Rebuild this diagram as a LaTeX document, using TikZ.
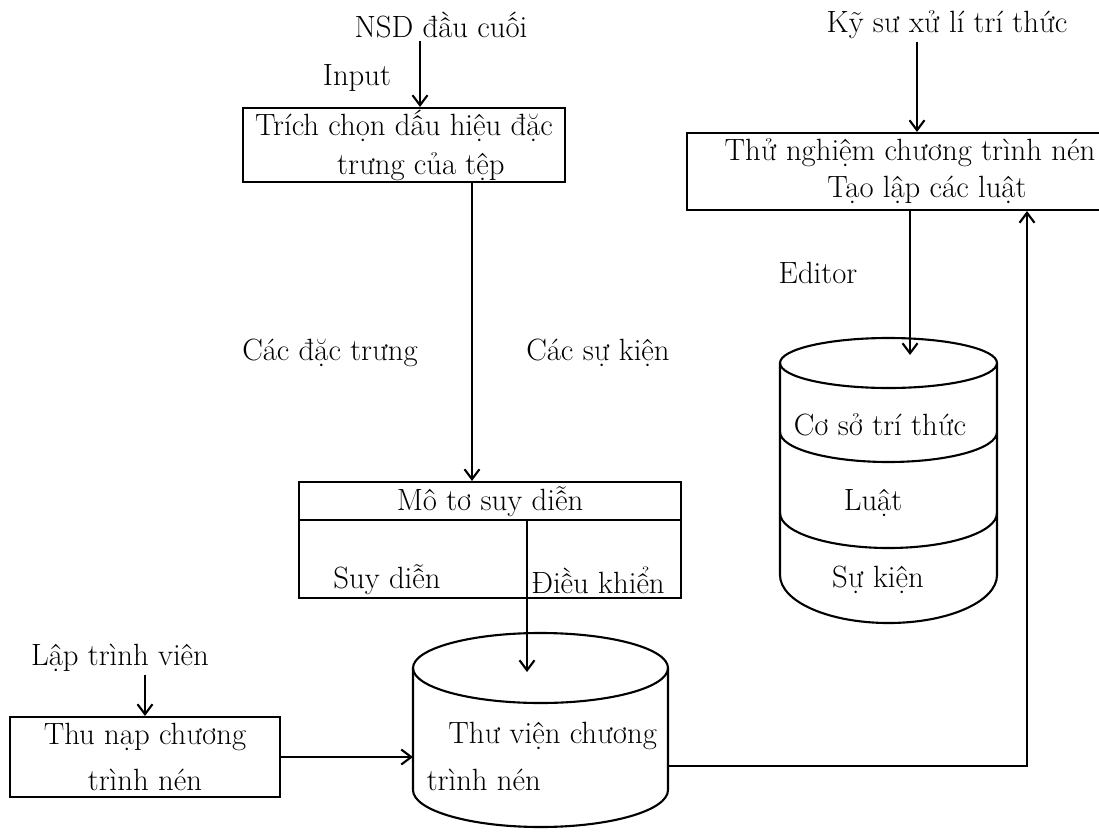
\documentclass[tikz,border=0pt]{standalone}
\usepackage{fontspec}
\usetikzlibrary{arrows.meta,positioning,calc}

\begin{document}
\begin{tikzpicture}[
      x=0.02cm,y=0.02cm,
      font=\fontsize{17.5}{21}\selectfont,
      line width=1.2pt,
      box/.style={draw,rectangle,inner sep=0pt,align=center},
      lbl/.style={inner sep=1pt},
      arr/.style={-{Straight Barb[length=2mm,width=3mm]},line width=1.2pt}
    ]
    \useasboundingbox (0,0) rectangle (1099,-832);
    % actors
    \node[lbl] (nsd) at (441,-25) {NSD đầu cuối};
    \node[lbl] (eng) at (947,-25) {Kỹ sư xử lí trí thức};
    \node[lbl] (dev) at (120,-658) {Lập trình viên};
    % boxes
    \node[box,minimum width=322*0.02cm,minimum height=74*0.02cm] (extract) at (404,-145)
      {Trích chọn dấu hiệu đặc\\[0.04cm]\hspace{1.1em}trưng của tệp};
    \node[box,minimum width=446*0.02cm,minimum height=77*0.02cm] (test) at (910,-171.5)
      {Thử nghiệm chương trình nén\\[0cm]\hspace{1.1em}Tạo lập các luật};
    \node[box,minimum width=270*0.02cm,minimum height=80*0.02cm] (prog) at (145,-757)
      {Thu nạp chương\\[0.18cm]trình nén};
    \node[box,minimum width=382*0.02cm,minimum height=116*0.02cm] (motor) at (490,-540) {};
    \draw (motor.west |- 0,-520) -- (motor.east |- 0,-520);
    \coordinate (ctl) at (527,-520);
    \draw (ctl) -- (ctl |- motor.south);
    \node[lbl] (infer) at (490,-502) {Mô tơ suy diễn};
    \node[lbl] (deduce) at (387,-580) {Suy diễn};
    \node[lbl] (control) at (598,-580) {Điều khiển};
    % program library
    \draw (540.5,-668) ellipse[x radius=127.5,y radius=35];
    \draw (413,-668) -- (413,-790) arc[start angle=180,end angle=360,x radius=127.5,y radius=37] -- (668,-668);
    \node[lbl,align=left,anchor=west] (lib) at (424,-756) {\hspace{0.7em}Thư viện chương\\[0.2cm]trình nén};
    \coordinate (libtop) at (527,-672);
    \coordinate (libL) at (413,-757);
    \coordinate (libR) at (668,-766);
    \coordinate (turn) at (1027,-766);
    % knowledge base
    \draw (888.5,-363) ellipse[x radius=108.5,y radius=25];
    \draw (780,-363) -- (780,-575) arc[start angle=180,end angle=360,x radius=108.5,y radius=48] -- (997,-363);
    \draw (780,-432) arc[start angle=180,end angle=360,x radius=108.5,y radius=30];
    \draw (780,-513) arc[start angle=180,end angle=360,x radius=108.5,y radius=35];
    \node[lbl] (kb) at (880,-425) {Cơ sở trí thức};
    \node[lbl] (rules) at (873,-503) {Luật};
    \node[lbl] (facts) at (878,-580) {Sự kiện};
    \coordinate (kbtop) at (910,-355);
    % labels
    \node[lbl] (input) at (357,-78) {Input};
    \node[lbl] (feat) at (330,-353) {Các đặc trưng};
    \node[lbl] (events) at (598,-353) {Các sự kiện};
    \node[lbl] (editor) at (818,-273) {Editor};
    % flows
    \draw[arr] (nsd.south -| 420,0) -- (extract.north -| 420,0);
    \draw[arr] (eng.south -| 917,0) -- (test.north -| 917,0);
    \draw[arr] (extract.south -| 472,0) -- (motor.north -| 472,0);
    \draw[arr] (test.south) -- (kbtop);
    \draw[arr] (ctl) -- (libtop);
    \draw[arr] (dev.south -| prog.north) -- (prog.north);
    \draw[arr] (prog.east) -- (libL);
    \draw[arr] (libR) -- (turn) -- (turn |- test.south);
  \end{tikzpicture}
\end{document}
